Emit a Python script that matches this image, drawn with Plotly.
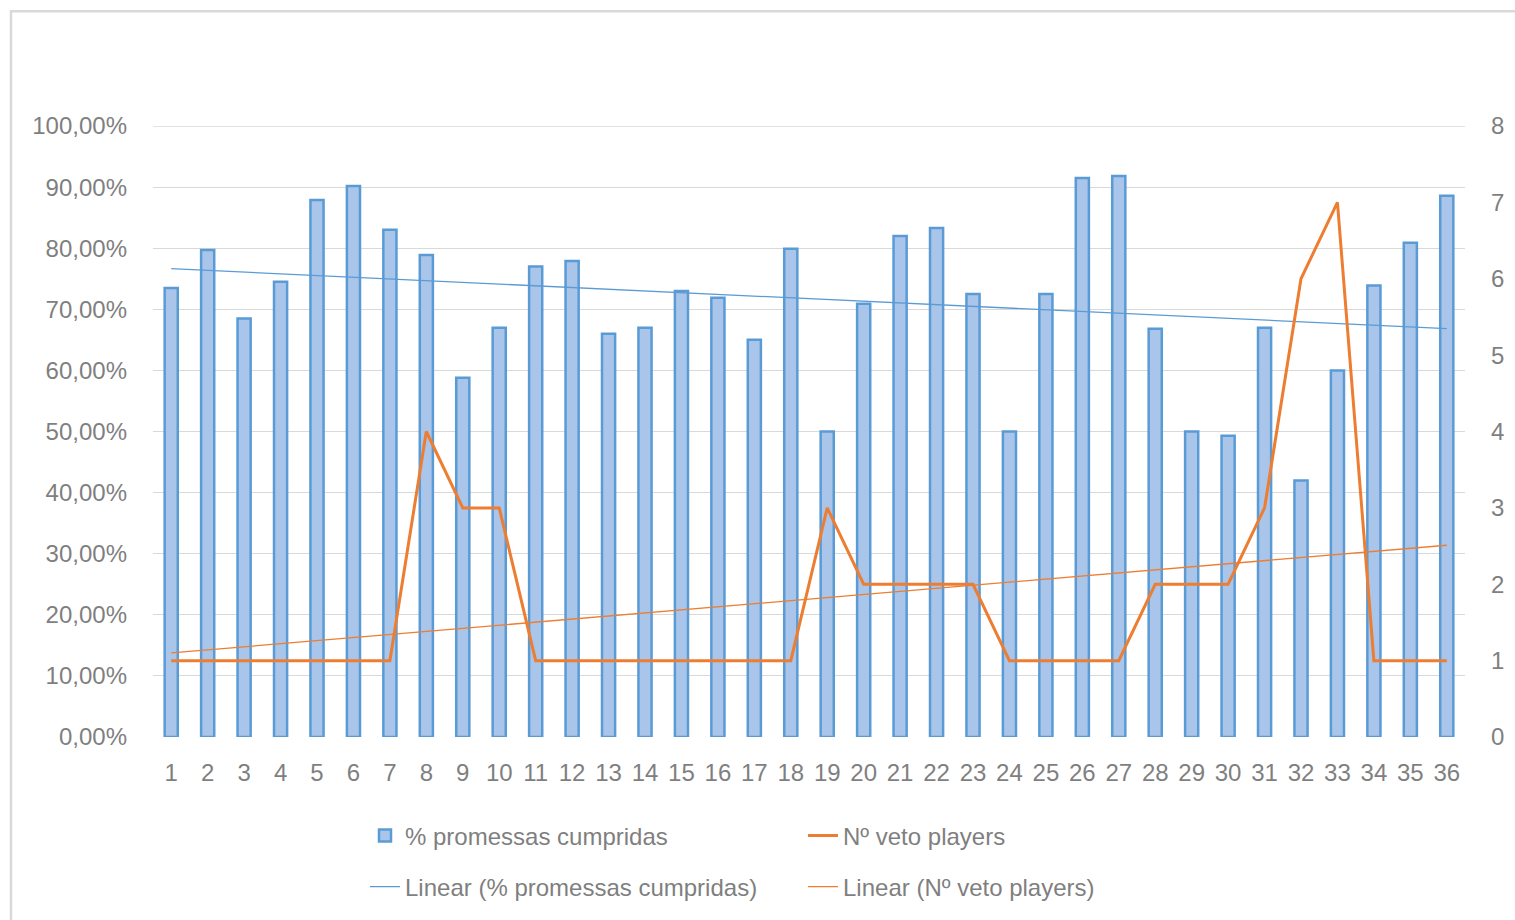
import numpy as np
import plotly.graph_objects as go

# Category labels (1..36)
categories = list(range(1, 37))

# Share of promises fulfilled (fraction)
promessas = [0.735, 0.797, 0.685, 0.745, 0.879, 0.902, 0.830, 0.789, 0.588, 0.670,
             0.770, 0.779, 0.660, 0.670, 0.730, 0.719, 0.650, 0.799, 0.500, 0.709,
             0.820, 0.833, 0.725, 0.500, 0.725, 0.915, 0.918, 0.668, 0.500, 0.493,
             0.670, 0.420, 0.600, 0.739, 0.809, 0.886]

# Number of veto players
veto = [1, 1, 1, 1, 1, 1, 1, 4, 3, 3,
        1, 1, 1, 1, 1, 1, 1, 1, 3, 2,
        2, 2, 2, 1, 1, 1, 1, 2, 2, 2,
        3, 6, 7, 1, 1, 1]

# Least-squares linear trends
x = np.array(categories, dtype=float)
p_coef = np.polyfit(x, np.array(promessas), 1)
v_coef = np.polyfit(x, np.array(veto, dtype=float), 1)
trend_p = np.polyval(p_coef, x)
trend_v = np.polyval(v_coef, x)

BLUE = "#5B9BD5"
BAR_FILL = "#A9C5E9"
ORANGE = "#ED7D31"
GRID = "#D9D9D9"
TXT = "#7F7F7F"
FONT = "Liberation Sans"
FS = 24

W, H = 1515, 920
ML, MR, MT, MB = 153, 50, 126, 182

fig = go.Figure()

fig.add_trace(go.Bar(
    x=categories, y=promessas, name="% promessas cumpridas",
    marker=dict(color=BAR_FILL, line=dict(color=BLUE, width=2.5)),
    width=0.36, legend="legend",
))
fig.add_trace(go.Scatter(
    x=categories, y=veto, name="Nº veto players", yaxis="y2",
    mode="lines", line=dict(color=ORANGE, width=3), legend="legend",
))
fig.add_trace(go.Scatter(
    x=categories, y=trend_p, name="Linear (% promessas cumpridas)",
    mode="lines", line=dict(color=BLUE, width=1.3), legend="legend2",
))
fig.add_trace(go.Scatter(
    x=categories, y=trend_v, name="Linear (Nº veto players)", yaxis="y2",
    mode="lines", line=dict(color=ORANGE, width=1.3), legend="legend2",
))

pw = W - ML - MR
ph = H - MT - MB

def px_x(p):
    return (p - ML) / pw

def px_y(p):
    return (H - MB - p) / ph

# Outer chart border (top and left edges)
fig.add_shape(type="path", xref="paper", yref="paper",
              path=f"M {px_x(11)} {px_y(930)} L {px_x(11)} {px_y(11)} L {px_x(1530)} {px_y(11)}",
              line=dict(color=GRID, width=2.5))

# Top gridline at 100 %
fig.add_shape(type="line", xref="paper", yref="y", x0=0, x1=1, y0=1, y1=1,
              line=dict(color=GRID, width=1.3), layer="below")

fig.update_layout(
    width=W, height=H,
    margin=dict(l=ML, r=MR, t=MT, b=MB),
    paper_bgcolor="white", plot_bgcolor="white",
    separators=",.",
    font=dict(family=FONT, size=FS, color=TXT),
    xaxis=dict(
        tickmode="array", tickvals=categories, ticktext=[str(c) for c in categories],
        range=[0.5, 36.5], showgrid=False, showline=False, zeroline=False,
        ticks="", ticklabelstandoff=19, tickfont=dict(size=FS, color=TXT),
    ),
    yaxis=dict(
        range=[0, 1], tickmode="linear", dtick=0.1, tick0=0, tickformat=".2%",
        showgrid=True, gridcolor=GRID, gridwidth=1.3, zeroline=False,
        ticks="", ticklabelstandoff=25, tickfont=dict(size=FS, color=TXT),
    ),
    yaxis2=dict(
        range=[0, 8], overlaying="y", side="right", tickmode="linear", dtick=1, tick0=0,
        showgrid=False, zeroline=False, ticks="", ticklabelstandoff=25,
        tickfont=dict(size=FS, color=TXT),
    ),
    legend=dict(
        orientation="h", x=px_x(365), xanchor="left", y=px_y(836), yanchor="middle",
        entrywidth=393, entrywidthmode="pixels", font=dict(size=FS, color=TXT),
        bgcolor="rgba(0,0,0,0)", itemclick=False, itemdoubleclick=False,
    ),
    legend2=dict(
        orientation="h", x=px_x(365), xanchor="left", y=px_y(887), yanchor="middle",
        entrywidth=393, entrywidthmode="pixels", font=dict(size=FS, color=TXT),
        bgcolor="rgba(0,0,0,0)", itemclick=False, itemdoubleclick=False,
    ),
    showlegend=True,
)

fig.write_html("out.html")
